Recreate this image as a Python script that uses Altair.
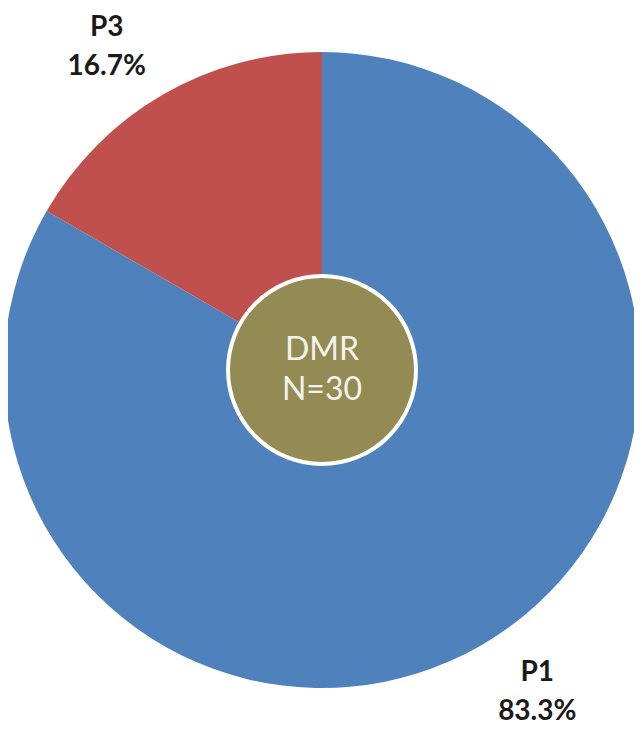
import math
import altair as alt
import pandas as pd

categories = ["P1", "P3"]
counts = [25, 5]
colors = ["#4F81BD", "#C0504D"]
center_lines = ["DMR", "N=30"]

total = sum(counts)
df = pd.DataFrame({
    "cat": categories,
    "n": counts,
    "order": list(range(len(categories))),
})
df["label"] = [f"{c}\n{n / total * 100:.1f}%" for c, n in zip(categories, counts)]

W, H = 626, 725
CX, CY = 314, 362
R = 318
rot = -0.0646

base = alt.Chart(df)

pie = base.mark_arc(radius=R, stroke=None).encode(
    theta=alt.Theta("n:Q", stack=True),
    color=alt.Color("cat:N", scale=alt.Scale(domain=categories, range=colors), legend=None),
    order=alt.Order("order:Q"),
    x=alt.value(CX),
    y=alt.value(CY),
)

labels = base.mark_text(
    radius=388, font="Lato", fontSize=28, fontWeight="bold", color="#1a1a1a",
    lineBreak="\n", lineHeight=39, align="center", baseline="middle", dy=-19.5,
).encode(
    theta=alt.Theta("n:Q", stack=True, scale=alt.Scale(range=[rot, 2 * math.pi + rot])),
    order=alt.Order("order:Q"),
    text="label:N",
    x=alt.value(CX),
    y=alt.value(CY),
)

cdf = pd.DataFrame({"t": ["\n".join(center_lines)]})
circle = alt.Chart(cdf).mark_circle(
    size=(2 * 94) ** 2, fill="#948A54", opacity=1, stroke="white", strokeWidth=4
).encode(x=alt.value(CX), y=alt.value(CY))

ctext = alt.Chart(cdf).mark_text(
    font="Lato", fontSize=32, color="#f4f4ee", lineBreak="\n", lineHeight=40,
    align="center", baseline="middle", dy=-20,
).encode(text="t:N", x=alt.value(CX), y=alt.value(CY))

chart = alt.layer(pie, labels, circle, ctext).resolve_scale(
    theta="independent"
).properties(
    width=W, height=H, autosize=alt.AutoSizeParams(type="none"), padding=0
).configure_view(stroke=None)

chart.save("out.html", embed_options={"renderer": "svg", "actions": False})
